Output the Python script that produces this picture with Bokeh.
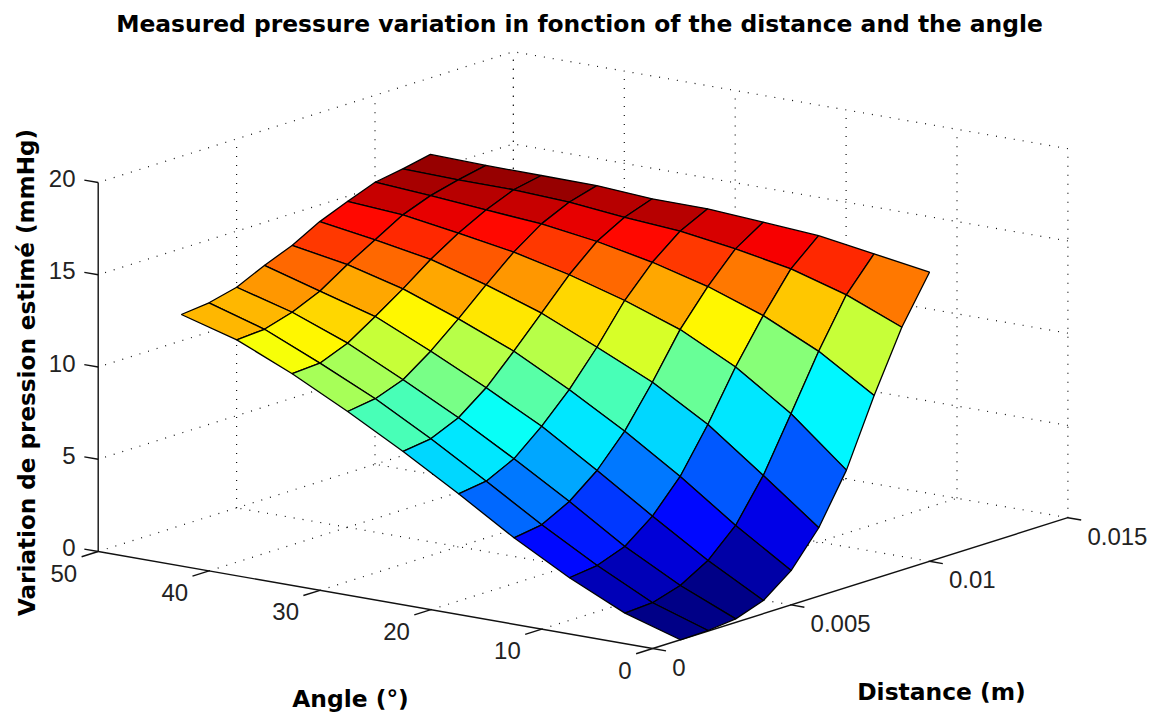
from bokeh.plotting import figure
from bokeh.models import Range1d, ColumnDataSource, LinearColorMapper
from bokeh.core.properties import value
from bokeh.embed import file_html
from bokeh.resources import INLINE
import math

TITLE = "Measured pressure variation in fonction of the distance and the angle"
XLABEL = "Angle (°)"
YLABEL = "Distance (m)"
ZLABEL = "Variation de pression estimé (mmHg)"

angles = [0, 5, 10, 15, 20, 25, 30, 35, 40, 45]
distances = [0.001, 0.002, 0.003, 0.004, 0.005, 0.006, 0.007, 0.008, 0.009, 0.010]

# pressure[angle index][distance index]
pressure = [
    [0.00, 0.03, 0.19, 0.71, 1.86, 3.71, 6.36, 9.93, 13.16, 15.67],
    [0.92, 1.01, 1.47, 2.35, 3.78, 6.02, 8.89, 11.80, 14.39, 16.14],
    [2.31, 2.50, 3.06, 4.23, 5.91, 8.25, 10.90, 13.21, 15.27, 16.60],
    [3.95, 4.18, 4.97, 6.18, 7.84, 10.02, 12.40, 14.26, 15.83, 16.80],
    [5.81, 6.02, 6.76, 8.05, 9.56, 11.39, 13.45, 15.05, 16.26, 17.00],
    [7.58, 7.79, 8.46, 9.61, 11.12, 12.71, 14.32, 15.65, 16.49, 17.02],
    [9.22, 9.44, 9.99, 11.07, 12.35, 13.72, 15.02, 16.08, 16.78, 17.21],
    [10.74, 10.84, 11.45, 12.42, 13.45, 14.57, 15.52, 16.31, 16.93, 17.23],
    [12.05, 12.15, 12.60, 13.27, 14.24, 15.11, 15.99, 16.56, 16.94, 17.25],
    [12.90, 13.06, 13.43, 14.14, 14.75, 15.57, 16.19, 16.76, 17.01, 17.32],
]

angle_ticks = [0, 10, 20, 30, 40, 50]
angle_labels = ["0", "10", "20", "30", "40", "50"]
distance_ticks = [0, 0.005, 0.01, 0.015]
distance_labels = ["0", "0.005", "0.01", "0.015"]
z_ticks = [0, 5, 10, 15, 20]
z_labels = ["0", "5", "10", "15", "20"]

A_MAX, D_MAX, Z_MAX = 50.0, 0.015, 20.0


def project(a, d, z):
    """Orthographic 3-D view: data (angle, distance, pressure) to page pixels."""
    x = 652.2 - 11.09 * a + 27680.0 * d
    y = 648.0 - 1.94 * a * 1.0 - 8720.0 * d - 18.45 * z
    return x, y


def jet(n):
    out = []
    for k in range(n):
        t = (k + 0.5) / n
        r = min(max(min(4 * t - 1.5, -4 * t + 4.5), 0), 1)
        g = min(max(min(4 * t - 0.5, -4 * t + 3.5), 0), 1)
        b = min(max(min(4 * t + 0.5, -4 * t + 2.5), 0), 1)
        out.append("#%02x%02x%02x" % (round(r * 255), round(g * 255), round(b * 255)))
    return out


p = figure(width=1151, height=715, output_backend="svg", toolbar_location=None,
           x_range=Range1d(0, 1151), y_range=Range1d(715, 0), min_border=0,
           outline_line_color=None, background_fill_color="white")
p.axis.visible = False
p.grid.visible = False


def seg(pts, **kw):
    xs, ys = zip(*[project(*q) for q in pts])
    p.line(list(xs), list(ys), **kw)


dot = dict(line_color="#111111", line_width=1.2, line_dash="1 8")

# back walls and floor grid (dotted)
for z in z_ticks[1:]:
    seg([(0, D_MAX, z), (A_MAX, D_MAX, z), (A_MAX, 0, z)], **dot)
for a in angle_ticks:
    seg([(a, D_MAX, 0), (a, D_MAX, Z_MAX)], **dot)
    if a > 0:
        seg([(a, 0, 0), (a, D_MAX, 0)], **dot)
for d in distance_ticks[1:]:
    seg([(A_MAX, d, 0), (A_MAX, d, Z_MAX)], **dot)
    seg([(0, d, 0), (A_MAX, d, 0)], **dot)

# solid axes and ticks
solid = dict(line_color="#111111", line_width=1.4)
seg([(A_MAX, 0, 0), (A_MAX, 0, Z_MAX)], **solid)
seg([(0, 0, 0), (A_MAX, 0, 0)], **solid)
seg([(0, 0, 0), (0, D_MAX, 0)], **solid)
for z in z_ticks:
    seg([(A_MAX, 0, z), (A_MAX + 1.25, 0, z)], **solid)
for a in angle_ticks:
    seg([(a, 0, 0), (a, -0.0006, 0)], **solid)
for d in distance_ticks:
    seg([(0, d, 0), (-1.2, d, 0)], **solid)

# surface: flat faces coloured from each face's first vertex, back to front
xs, ys, cs = [], [], []
for i in range(len(angles) - 2, -1, -1):
    for j in range(len(distances) - 2, -1, -1):
        corners = [(i, j), (i, j + 1), (i + 1, j + 1), (i + 1, j)]
        pts = [project(angles[m], distances[n], pressure[m][n]) for m, n in corners]
        xs.append([q[0] for q in pts])
        ys.append([q[1] for q in pts])
        cs.append(pressure[i][j])

zmax = max(max(r) for r in pressure)
zmin = min(min(r) for r in pressure)
mapper = LinearColorMapper(palette=jet(64), low=zmin, high=zmax)
p.patches("xs", "ys", source=ColumnDataSource(dict(xs=xs, ys=ys, c=cs)),
          fill_color={"field": "c", "transform": mapper}, fill_alpha=1,
          line_color="black", line_width=1.3)

TICK_FONT = value("Liberation Sans")
BOLD_FONT = value("DejaVu Sans")


def tick_text(xv, yv, labels, align, dx, dy):
    p.text(x=[v + dx for v in xv], y=[v + dy for v in yv], text=labels,
           text_font=TICK_FONT, text_font_size=value("24px"), text_color="#222222",
           text_align=align, text_baseline="middle")


pts = [project(a, 0, 0) for a in angle_ticks]
tick_text([q[0] for q in pts], [q[1] for q in pts], angle_labels, "right", -21, 21.5)
pts = [project(0, d, 0) for d in distance_ticks]
tick_text([q[0] for q in pts], [q[1] for q in pts], distance_labels, "left", 19.5, 18.5)
pts = [project(A_MAX, 0, z) for z in z_ticks]
tick_text([q[0] for q in pts], [q[1] for q in pts], z_labels, "right", -22.7, -4)

p.text(x=[579], y=[23], text=[TITLE], text_font=BOLD_FONT, text_font_size=value("23.4px"),
       text_font_style="bold", text_color="black", text_align="center", text_baseline="middle")
p.text(x=[350], y=[698], text=[XLABEL], text_font=BOLD_FONT, text_font_size=value("23.4px"),
       text_font_style="bold", text_color="black", text_align="center", text_baseline="middle")
p.text(x=[941], y=[691], text=[YLABEL], text_font=BOLD_FONT, text_font_size=value("23.4px"),
       text_font_style="bold", text_color="black", text_align="center", text_baseline="middle")
p.text(x=[26], y=[372], text=[ZLABEL], angle=[math.pi / 2], text_font=BOLD_FONT,
       text_font_size=value("23.1px"), text_font_style="bold", text_color="black",
       text_align="center", text_baseline="middle")

open("out.html", "w").write(file_html(p, INLINE))
